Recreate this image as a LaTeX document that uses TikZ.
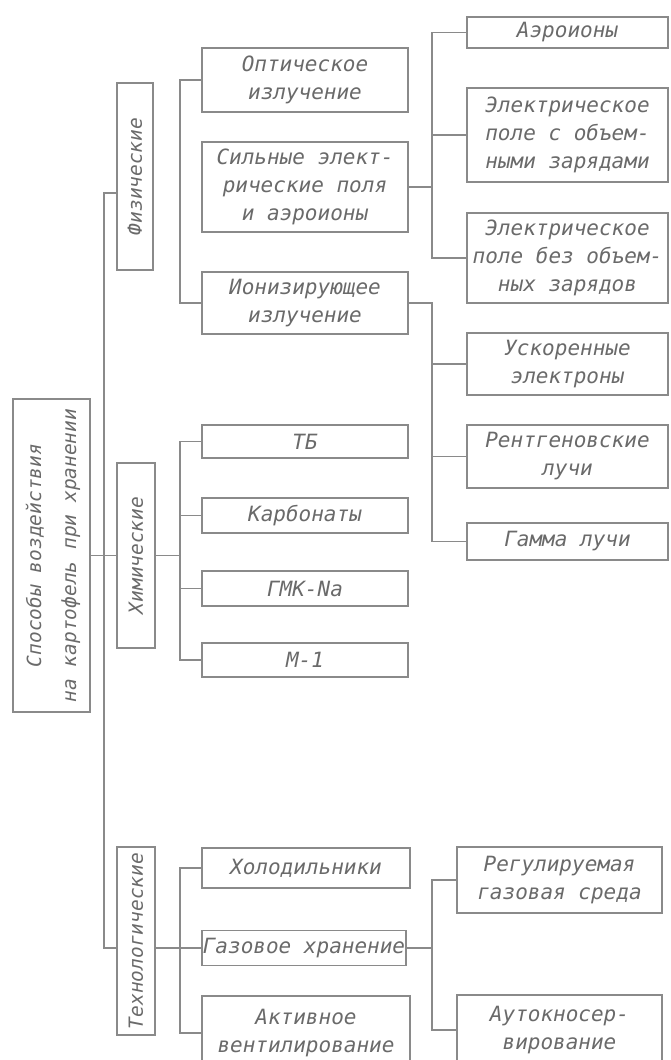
\documentclass[tikz,border=0pt]{standalone}
\usepackage{fontspec}
\usepackage{graphicx}
\newfontfamily\gost{DejaVu Sans Mono}
\definecolor{lncol}{HTML}{8A8A8A}
\definecolor{txcol}{HTML}{6A6A6A}
\begin{document}
\begin{tikzpicture}[x=1pt,y=-1pt,
  box/.style={draw=lncol, line width=1.3pt, inner sep=0pt, align=center, text=txcol,
    font=\gost\itshape\fontsize{21}{28}\selectfont},
  sidebox/.style={draw=lncol, line width=1.3pt, inner sep=0pt, text=txcol,
    font=\gost\itshape\fontsize{19.5}{35}\selectfont},
  con/.style={draw=lncol, line width=1.3pt}]
\useasboundingbox (0,0) rectangle (670,1060);
\clip (0,0) rectangle (670,1060);

% left column
\node[sidebox, minimum width=77, minimum height=313] (root) at (51.5,555.5)
  {\rotatebox{90}{\begin{tabular}{@{}c@{}}Способы воздействия\\на картофель при хранении\end{tabular}}};
\node[sidebox, minimum width=36, minimum height=187] (fiz) at (135,176.5) {\rotatebox{90}{Физические}};
\node[sidebox, minimum width=38, minimum height=185] (him) at (136,555.5) {\rotatebox{90}{Химические}};
\node[sidebox, minimum width=38, minimum height=188] (teh) at (136,941) {\rotatebox{90}{Технологические}};

% second column
\node[box, minimum width=206, minimum height=64] (opt) at (305,80) {Оптическое\\излучение};
\node[box, minimum width=206, minimum height=90] (sil) at (305,187) {Сильные элект-\\рические поля\\и аэроионы};
\node[box, minimum width=206, minimum height=62] (ion) at (305,303) {Ионизирующее\\излучение};
\node[box, minimum width=206, minimum height=33] (tb) at (305,441.5) {ТБ};
\node[box, minimum width=206, minimum height=35] (karb) at (305,515.5) {Карбонаты};
\node[box, minimum width=206, minimum height=35] (gmk) at (305,588.5) {ГМК-Na};
\node[box, minimum width=206, minimum height=34] (m1) at (305,660) {М-1};
\node[box, minimum width=208, minimum height=40] (hol) at (306,868) {Холодильники};
\node[box, minimum width=204, minimum height=35] (gaz) at (304,948) {Газовое хранение};
\node[box, minimum width=208, minimum height=74] (akt) at (306,1033) {Активное\\вентилирование};

% third column
\node[box, minimum width=201, minimum height=31] (aer) at (567.5,32.5) {Аэроионы};
\node[box, minimum width=201, minimum height=94] (epo) at (567.5,135) {Электрическое\\поле с объем-\\ными зарядами};
\node[box, minimum width=201, minimum height=90] (ebez) at (567.5,258) {Электрическое\\поле без объем-\\ных зарядов};
\node[box, minimum width=201, minimum height=62] (usk) at (567.5,364) {Ускоренные\\электроны};
\node[box, minimum width=201, minimum height=63] (rent) at (567.5,456.5) {Рентгеновские\\лучи};
\node[box, minimum width=201, minimum height=37] (gam) at (567.5,541.5) {Гамма лучи};
\node[box, minimum width=205, minimum height=66] (reg) at (559.5,880) {Регулируемая\\газовая среда};
\node[box, minimum width=205, minimum height=70] (auto) at (559.5,1030) {Аутокносер-\\вирование};

% bracket positions
\coordinate (xa) at (180,0);
\coordinate (xb) at (432,0);
\coordinate (mt) at (104,193);
\coordinate (mb) at (104,948);

% main trunk
\draw[con] (fiz.west |- mt) -- (mt) -- (mb) -- (teh.west |- mb);
\draw[con] (root.east) -- (him.west);

% physical
\draw[con] (opt.west) -- (opt.west -| xa) -- (ion.west -| xa) -- (ion.west);
\draw[con] (sil.east) -- (sil.east -| xb);
\draw[con] (aer.west) -- (aer.west -| xb) -- (ebez.west -| xb) -- (ebez.west);
\draw[con] (epo.west) -- (epo.west -| xb);
\draw[con] (ion.east) -- (ion.east -| xb) -- (gam.west -| xb) -- (gam.west);
\draw[con] (usk.west) -- (usk.west -| xb);
\draw[con] (rent.west) -- (rent.west -| xb);

% chemical
\draw[con] (him.east) -- (him.east -| xa);
\draw[con] (tb.west) -- (tb.west -| xa) -- (m1.west -| xa) -- (m1.west);
\draw[con] (karb.west) -- (karb.west -| xa);
\draw[con] (gmk.west) -- (gmk.west -| xa);

% technological
\draw[con] (teh.east |- mb) -- (gaz.west);
\draw[con] (hol.west) -- (hol.west -| xa) -- (akt.west -| xa) -- (akt.west);
\draw[con] (gaz.east) -- (gaz.east -| xb);
\draw[con] (reg.west) -- (reg.west -| xb) -- (auto.west -| xb) -- (auto.west);
\end{tikzpicture}
\end{document}
